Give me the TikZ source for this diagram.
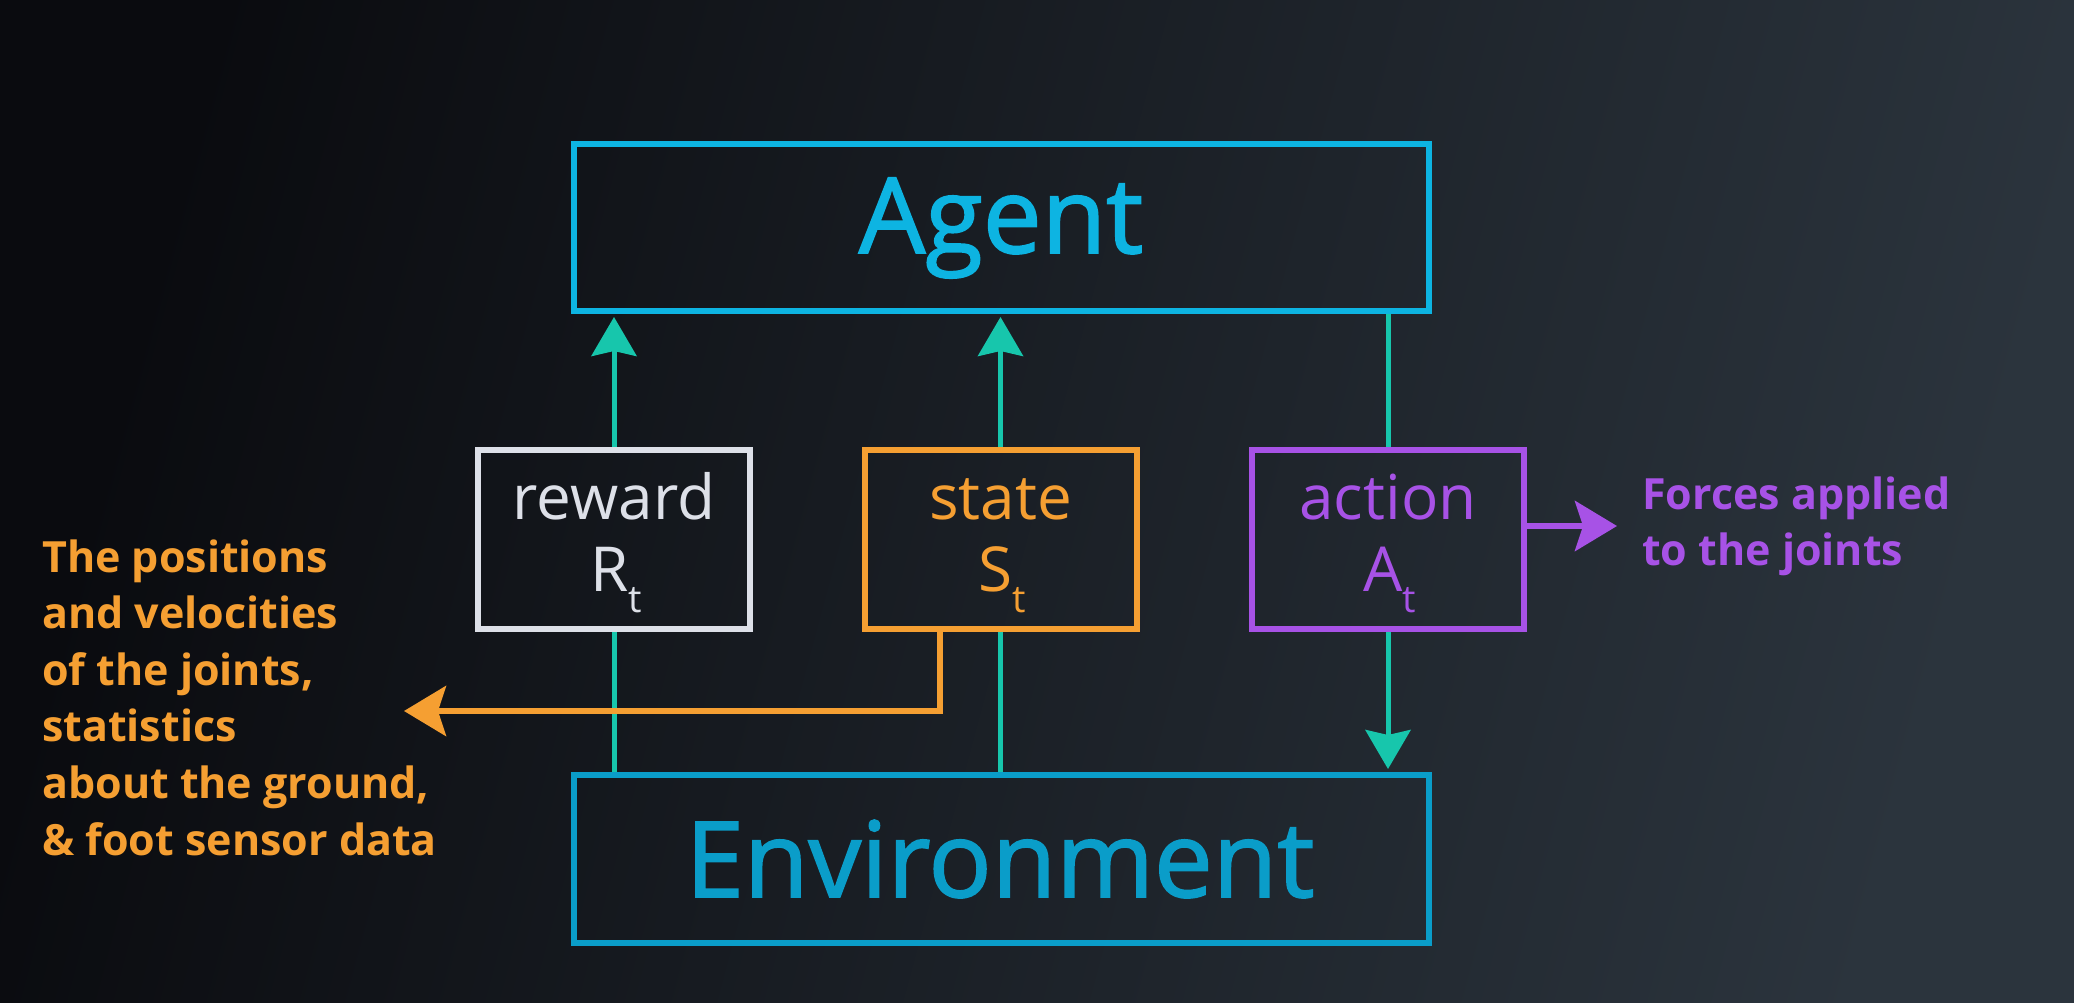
\documentclass[tikz,border=0pt]{standalone}
\usepackage{fontspec}
\setmainfont{Open Sans}
\newfontfamily\headfont[FakeBold=1.6]{Open Sans}
\usetikzlibrary{arrows.meta}

\definecolor{agentblue}{HTML}{0DB4E2}
\definecolor{envblue}{HTML}{0A9DC9}
\definecolor{flowteal}{HTML}{17C6AC}
\definecolor{rewardgray}{HTML}{DDE0E8}
\definecolor{stateorange}{HTML}{F59F32}
\definecolor{actionpurple}{HTML}{A752E6}
\definecolor{bgdark}{HTML}{0A0B0F}
\definecolor{bglight}{HTML}{2B343D}

% lowered subscript "t" used in the symbols R_t, S_t, A_t
\newcommand\lowt{\raisebox{-21pt}{\fontsize{38}{38}\selectfont t}}

\begin{document}
\begin{tikzpicture}[x=1pt,y=-1pt,
  mainbox/.style={draw, line width=6pt, minimum width=855pt, minimum height=167pt, inner sep=0pt},
  smallbox/.style={draw, line width=6pt, minimum width=272pt, minimum height=179pt, inner sep=0pt},
  bigtext/.style={font=\headfont\fontsize{105}{105}\selectfont, anchor=base, inner sep=0pt},
  boxtext/.style={font=\fontsize{62}{62}\selectfont, anchor=base, inner sep=0pt},
  sidetext/.style={font=\bfseries\fontsize{43}{43}\selectfont, anchor=base west, inner sep=0pt},
  flow/.style={draw=flowteal, line width=5pt},
  tealhead/.style={-{Stealth[length=39pt, width=45pt, inset=5pt]}},
  sidehead/.style={-{Stealth[length=42pt, width=50pt, inset=8pt]}},
]
% background
\useasboundingbox (0,0) rectangle (2074,1003);
\shade[left color=bgdark, right color=bglight, shading angle=75] (0,0) rectangle (2074,1003);

% main blocks
\node[mainbox, draw=agentblue] (agent) at (1001.5,227.5) {};
\node[mainbox, draw=envblue, minimum height=168pt] (env) at (1001.5,859) {};
\node[bigtext, text=agentblue] (agentlabel) at (1001,253) {Agent};
\node[bigtext, text=envblue] (envlabel) at (1000,897) {Environment};

% signal boxes
\node[smallbox, draw=rewardgray] (rbox) at (614,539.5) {};
\node[smallbox, draw=stateorange] (sbox) at (1000.5,539.5) {};
\node[smallbox, draw=actionpurple] (abox) at (1388,539.5) {};

\node[boxtext, text=rewardgray] (rname) at (614,519) {reward};
\node[boxtext, text=rewardgray] (rsym) at (616,591) {R\lowt};
\node[boxtext, text=stateorange] (sname) at (1000.5,519) {state};
\node[boxtext, text=stateorange] (ssym) at (1002,591) {S\lowt};
\node[boxtext, text=actionpurple] (aname) at (1388,519) {action};
\node[boxtext, text=actionpurple] (asym) at (1390,591) {A\lowt};

% teal loop connectors
\draw[flow] (rbox.south |- env.north) -- (rbox.south);
\draw[flow, tealhead] (rbox.north) -- ([yshift=-3pt]rbox.north |- agent.south);
\draw[flow] (sbox.south |- env.north) -- (sbox.south);
\draw[flow, tealhead] (sbox.north) -- ([yshift=-3pt]sbox.north |- agent.south);
\draw[flow] (abox.north |- agent.south) -- (abox.north);
\draw[flow, tealhead] (abox.south) -- ([yshift=3pt]abox.south |- env.north);

% state description arrow
\coordinate (obend) at (940,711);
\coordinate (otip) at (404,711);
\draw[stateorange, line width=6pt, sidehead] (sbox.south -| obend) |- (otip);

% action description arrow
\coordinate (ptip) at (1617,526);
\draw[actionpurple, line width=6.5pt, sidehead] (abox.east |- ptip) -- (ptip);

% descriptions
\node[sidetext, text=actionpurple] (force1) at (1642,509) {Forces applied};
\node[sidetext, text=actionpurple] (force2) at (1642,565) {to the joints};

\foreach \line [count=\i] in {The positions, and velocities, {of the joints,}, statistics, {about the ground,}, \& foot sensor data}
  \node[sidetext, text=stateorange] (obs\i) at (42, 572+56.6*\i-56.6) {\line};
\end{tikzpicture}
\end{document}
